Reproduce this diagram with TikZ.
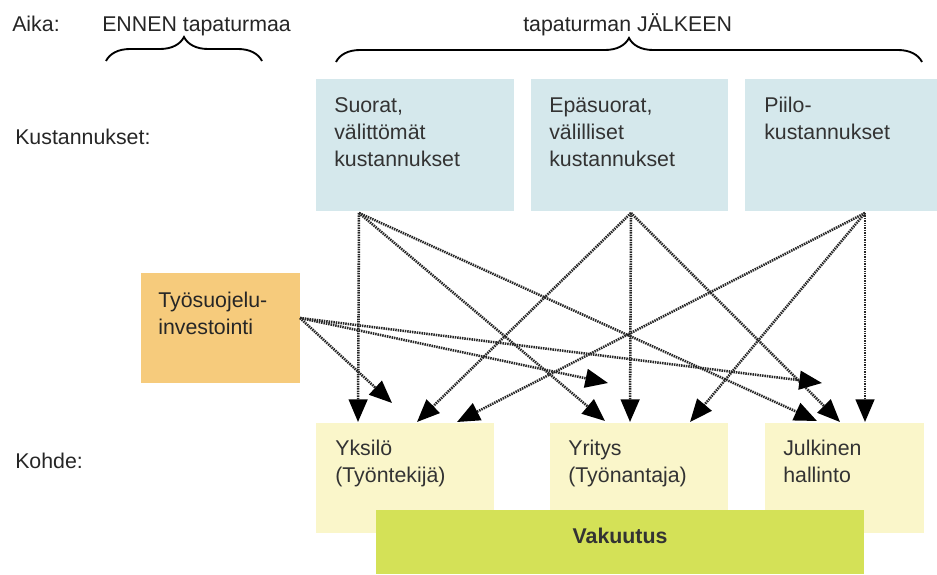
\documentclass[tikz,border=0pt]{standalone}
\usepackage{fontspec}
\setmainfont{Liberation Sans}
\usetikzlibrary{arrows.meta,decorations.pathreplacing}
\definecolor{costblue}{HTML}{D5E8EC}
\definecolor{targetyellow}{HTML}{FAF6CA}
\definecolor{investorange}{HTML}{F6CB7C}
\definecolor{insgreen}{HTML}{D4E157}
\definecolor{txtgray}{HTML}{333333}
\newcommand{\firststrut}{\rule{0pt}{12.75pt}}
\begin{document}
\begin{tikzpicture}[x=0.75pt,y=-0.75pt,
  lbl/.style={font=\fontsize{16pt}{20.25pt}\selectfont, text=black!85, inner sep=0pt, anchor=base west},
  boxtxt/.style={font=\fontsize{16pt}{20.25pt}\selectfont, text=txtgray, inner sep=0pt, anchor=north west, align=left},
  panel/.style={draw=none, inner sep=0pt, anchor=north west},
  flow/.style={line width=1.9pt, black!85, dash pattern=on 1.1pt off 0.7pt, -{Triangle[length=17pt,width=14pt,color=black]}},
  curly/.style={line width=1.4pt, decorate, decoration={brace, amplitude=18pt}}
]
\useasboundingbox (0,0) rectangle (937,574);
\fill[white] (0,0) rectangle (937,574);

% header texts
\node[lbl] (aika) at (12,32) {Aika:};
\node[lbl] (ennen) at (102,32) {ENNEN tapaturmaa};
\node[lbl] (jalkeen) at (523,32) {tapaturman JÄLKEEN};
\node[lbl] (kust) at (15,145) {Kustannukset:};
\node[lbl] (kohde) at (15,468) {Kohde:};

% braces
\coordinate (bl1) at (106,61);
\coordinate (bl2) at (262,61);
\coordinate (br1) at (336,62);
\coordinate (br2) at (922,62);
\draw[curly] (bl1) -- (bl2);
\draw[curly] (br1) -- (br2);

% cost boxes
\node[panel, fill=costblue, minimum width=148.5pt, minimum height=99pt] (b1) at (316,79) {};
\node[panel, fill=costblue, minimum width=147.75pt, minimum height=99pt] (b2) at (531,79) {};
\node[panel, fill=costblue, minimum width=144pt, minimum height=99pt] (b3) at (745,79) {};
\node[boxtxt] (b1t) at (334,95) {\firststrut Suorat,\\välittömät\\kustannukset};
\node[boxtxt] (b2t) at (549,95) {\firststrut Epäsuorat,\\välilliset\\kustannukset};
\node[boxtxt] (b3t) at (764,95) {\firststrut Piilo-\\kustannukset};

% investment box
\node[panel, fill=investorange, minimum width=119.25pt, minimum height=82.5pt] (inv) at (141,273) {};
\node[boxtxt, text=black!85] (invt) at (158,290) {\firststrut Työsuojelu-\\investointi};

% target boxes
\node[panel, fill=targetyellow, minimum width=133.5pt, minimum height=82.5pt] (y1) at (316,423) {};
\node[panel, fill=targetyellow, minimum width=133.5pt, minimum height=82.5pt] (y2) at (550,423) {};
\node[panel, fill=targetyellow, minimum width=119.25pt, minimum height=82.5pt] (y3) at (765,423) {};
\node[boxtxt] (y1t) at (335,438) {\firststrut Yksilö\\(Työntekijä)};
\node[boxtxt] (y2t) at (568,438) {\firststrut Yritys\\(Työnantaja)};
\node[boxtxt] (y3t) at (783,438) {\firststrut Julkinen\\hallinto};

% insurance box
\node[panel, fill=insgreen, minimum width=366pt, minimum height=48pt] (vak) at (376,510) {};
\node[font=\fontsize{16pt}{20.25pt}\selectfont\bfseries, text=txtgray, inner sep=0pt] (vakt) at (620,536) {Vakuutus};

% connector end points
\coordinate (s1) at (359,213);
\coordinate (s2) at (631,213);
\coordinate (s3) at (865,213);
\coordinate (t0) at (300,318);
\coordinate (y1a) at (358,422);
\coordinate (y1b) at (392,403);
\coordinate (y1c) at (417,422);
\coordinate (y1d) at (457,422);
\coordinate (y2a) at (605,421);
\coordinate (y2b) at (608,383);
\coordinate (y2c) at (630,422);
\coordinate (y2d) at (690,422);
\coordinate (y3a) at (817,421);
\coordinate (y3b) at (822,383);
\coordinate (y3c) at (840,422);
\coordinate (y3d) at (865,422);

% connectors
\draw[flow] (s1) -- (y1a);
\draw[flow] (s1) -- (y2a);
\draw[flow] (s1) -- (y3a);
\draw[flow] (s2) -- (y1c);
\draw[flow] (s2) -- (y2c);
\draw[flow] (s2) -- (y3c);
\draw[flow] (s3) -- (y1d);
\draw[flow] (s3) -- (y2d);
\draw[flow] (s3) -- (y3d);
\draw[flow] (t0) -- (y1b);
\draw[flow] (t0) -- (y2b);
\draw[flow] (t0) -- (y3b);
\end{tikzpicture}
\end{document}
